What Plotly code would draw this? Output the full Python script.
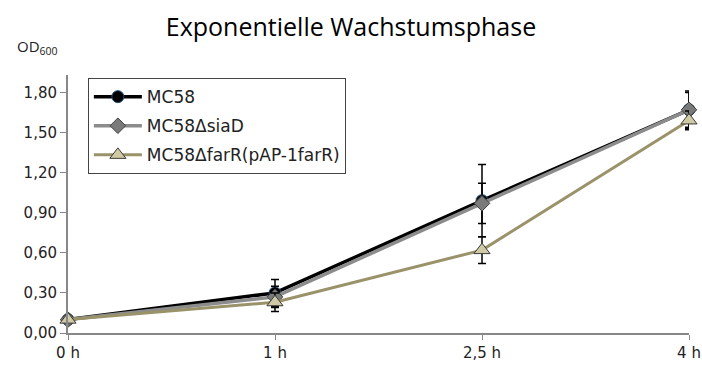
import plotly.graph_objects as go

x_labels = ["0 h", "1 h", "2,5 h", "4 h"]
x_pos = [0, 1, 2, 3]
y_ticks = [0.0, 0.3, 0.6, 0.9, 1.2, 1.5, 1.8]

mc58 = [0.10, 0.30, 0.99, 1.67]
mc58_err = [0.01, 0.10, 0.27, 0.14]
siad = [0.10, 0.27, 0.97, 1.67]
siad_err = [0.01, 0.08, 0.15, 0.13]
farr = [0.10, 0.23, 0.62, 1.59]
farr_err = [0.01, 0.07, 0.10, 0.07]

fig = go.Figure()

def add(name, y, err, line_color, lw, sym, fill, outline, size, group):
    fig.add_trace(go.Scatter(
        x=x_pos, y=y, name=name, mode="lines+markers",
        line=dict(color=line_color, width=lw),
        marker=dict(symbol=sym, color=fill, size=size, line=dict(color=outline, width=1)),
        error_y=dict(type="data", array=err, color="black", thickness=1.5, width=4),
        cliponaxis=False, legendgroup=group,
    ))

add("MC58", mc58, mc58_err, "black", 3.5, "circle", "black", "#1f4e79", 12, "a")
add("MC58ΔsiaD", siad, siad_err, "#8c8c8c", 3.5, "diamond", "#7a7a7a", "#404040", 12, "b")
add("MC58ΔfarR(pAP-1farR)", farr, farr_err, "#9a9268", 3, "triangle-up", "#cfc9a5", "#3a3a3a", 14, "c")

fig.update_layout(
    width=702, height=368,
    margin=dict(l=68, r=13, t=75, b=35),
    plot_bgcolor="white", paper_bgcolor="white",
    separators=",.",
    title=dict(text="Exponentielle Wachstumsphase", x=0.5, xanchor="center", y=0.925, yanchor="middle",
               font=dict(family="Open Sans", size=25, color="black")),
    font=dict(family="DejaVu Sans", color="#222"),
    legend=dict(x=0.032, y=0.988, xanchor="left", yanchor="top",
                bordercolor="#444", borderwidth=1, bgcolor="white",
                font=dict(family="DejaVu Sans", size=17, color="#222"),
                tracegroupgap=4, itemwidth=48),
    showlegend=True,
)
fig.add_annotation(text="OD<sub>600</sub>", xref="paper", yref="paper",
                   x=-0.085, y=1.11, xanchor="left", yanchor="middle", showarrow=False,
                   font=dict(family="Open Sans", size=15, color="#222"))

fig.update_xaxes(range=[0, 3], tickvals=x_pos, ticktext=x_labels, showgrid=False,
                 showline=True, linecolor="#888", linewidth=2, ticks="outside",
                 tickcolor="#888", ticklen=5, zeroline=False, automargin=False,
                 tickfont=dict(family="DejaVu Sans", size=15, color="#222"))
fig.update_yaxes(range=[0, 1.93], tickvals=y_ticks, tickformat=".2f", showgrid=False,
                 showline=True, linecolor="#888", linewidth=2, ticks="outside",
                 tickcolor="#888", ticklen=6, zeroline=False, automargin=False,
                 tickfont=dict(family="DejaVu Sans", size=15, color="#222"))

fig.write_html("out.html")
